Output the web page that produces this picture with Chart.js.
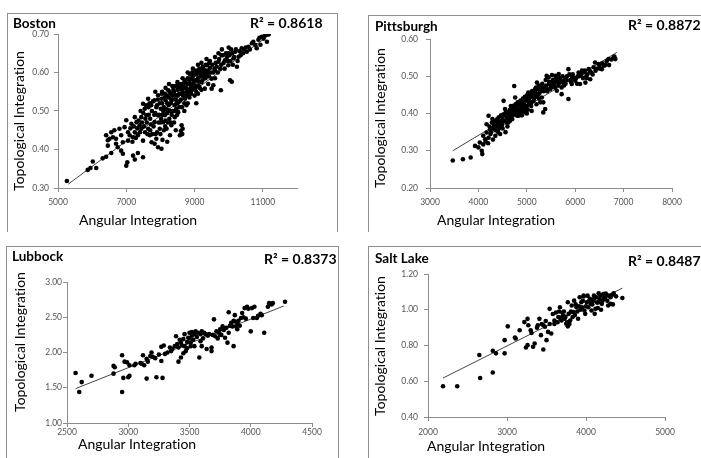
<!DOCTYPE html>
<html>
<head>
<meta charset="utf-8">
<script src="https://cdn.jsdelivr.net/npm/chart.js@4.4.0/dist/chart.umd.min.js"></script>
<style>
  body { margin: 0; width: 701px; height: 458px; overflow: hidden; position: relative; background: #fff; font-family: Lato, "Open Sans", sans-serif; font-variant-ligatures: none; }
  .box { position: absolute; border: 1px solid #8f8f8f; border-bottom: none; }
  canvas { position: absolute; }
  .lbl { position: absolute; white-space: nowrap; color: #000; line-height: 1; }
  .name { font-weight: bold; font-size: 13.5px; }
  .r2 { font-weight: bold; font-size: 14px; }
  .xt { font-size: 14px; }
  .yt { font-size: 14px; transform: translate(-50%, -50%) rotate(-90deg); }
</style>
</head>
<body>
<div class="box" style="left:7px;top:13px;width:329px;height:218px"></div>
<div class="box" style="left:368px;top:15px;width:340px;height:216px"></div>
<div class="box" style="left:6px;top:246px;width:331px;height:220px"></div>
<div class="box" style="left:368px;top:246px;width:340px;height:220px"></div>

<canvas id="boston"></canvas>
<canvas id="pittsburgh"></canvas>
<canvas id="lubbock"></canvas>
<canvas id="saltlake"></canvas>

<div class="lbl name" style="left:13px;top:17px">Boston</div>
<div class="lbl r2" style="left:250px;top:16px">R² = 0.8618</div>
<div class="lbl yt" style="left:19px;top:121px">Topological Integration</div>
<div class="lbl xt" style="left:79px;top:213px">Angular Integration</div>

<div class="lbl name" style="left:375px;top:20px">Pittsburgh</div>
<div class="lbl r2" style="left:628px;top:18px">R² = 0.8872</div>
<div class="lbl yt" style="left:380px;top:118px">Topological Integration</div>
<div class="lbl xt" style="left:437px;top:213px">Angular Integration</div>

<div class="lbl name" style="left:12px;top:250px">Lubbock</div>
<div class="lbl r2" style="left:264px;top:252px">R² = 0.8373</div>
<div class="lbl yt" style="left:20px;top:342px">Topological Integration</div>
<div class="lbl xt" style="left:78px;top:437px">Angular Integration</div>

<div class="lbl name" style="left:375px;top:252px">Salt Lake</div>
<div class="lbl r2" style="left:628px;top:254px">R² = 0.8487</div>
<div class="lbl yt" style="left:380px;top:346px">Topological Integration</div>
<div class="lbl xt" style="left:427px;top:439px">Angular Integration</div>

<script>
// Boston
const bostonPts = [
  [5260,0.318],[5870,0.347],[5950,0.352],[6020,0.369],[6120,0.352],[6310,0.377],[6410,0.381],[6560,0.391],
  [6460,0.410],[6700,0.415],[6610,0.432],[6800,0.454],[6950,0.458],[7000,0.476],[7100,0.437],[7200,0.432],
  [7250,0.445],[7050,0.423],[7000,0.358],[7030,0.367],[7200,0.384],[7340,0.391],[7250,0.374],[7490,0.380],
  [6900,0.389],[6410,0.437],[6510,0.428],[6750,0.406],[6850,0.397],[6650,0.450],[6460,0.424],[6560,0.445],
  [6700,0.428],[6850,0.437],[6900,0.419],[7150,0.467],[7300,0.471],[7250,0.484],[7440,0.454],[7340,0.437],
  [7490,0.423],[7390,0.463],[7440,0.484],[7540,0.506],[7590,0.489],[7640,0.454],[7690,0.437],[7740,0.419],
  [7830,0.415],[7880,0.428],[7930,0.406],[8030,0.402],[7980,0.454],[7830,0.471],[7930,0.489],[8010,0.506],
  [7730,0.515],[7830,0.528],[8030,0.532],[8130,0.545],[7930,0.541],[7490,0.519],[7640,0.532],[8080,0.471],
  [8130,0.489],[8230,0.502],[8180,0.454],[8280,0.437],[8320,0.463],[8420,0.484],[8520,0.497],[8620,0.463],
  [8650,0.454],[8570,0.437],[8420,0.515],[8320,0.528],[8230,0.554],[8370,0.563],[8480,0.541],[8570,0.558],
  [8670,0.567],[8720,0.532],[8760,0.515],[8810,0.550],[8860,0.571],[8910,0.584],[9010,0.567],[9110,0.576],
  [9210,0.593],[9260,0.610],[9360,0.619],[9400,0.602],[9500,0.584],[9550,0.567],[9600,0.606],[9700,0.628],
  [9790,0.645],[9890,0.632],[9990,0.619],[10040,0.580],[10090,0.576],[9990,0.650],[10140,0.637],[10190,0.654],
  [10290,0.641],[10380,0.663],[10530,0.654],[10580,0.667],[10780,0.671],[10870,0.685],[10970,0.693],[11070,0.697],
  [11120,0.680],[10820,0.663],[10680,0.676],[10240,0.615],[9770,0.554],[9500,0.558],[9300,0.558],
  [8050,0.520],[8100,0.510],[8150,0.528],[8200,0.520],[8250,0.535],[8300,0.545],[8350,0.540],[8400,0.550],
  [8450,0.530],[8500,0.555],[8550,0.545],[8600,0.560],[8650,0.550],[8700,0.575],[8750,0.560],[8800,0.585],
  [8850,0.555],[8900,0.570],[8950,0.590],[9000,0.580],[9050,0.595],[9100,0.585],[9150,0.600],[9200,0.575],
  [9250,0.590],[9300,0.605],[9350,0.595],[9450,0.612],[9550,0.600],[9650,0.615],[9750,0.610],[9850,0.625],
  [9950,0.640],[10050,0.630],[10100,0.650],[10350,0.645],[10450,0.660],[8000,0.470],[8060,0.490],[8100,0.450],
  [8150,0.475],[8200,0.495],[8260,0.480],[8350,0.500],[8400,0.470],[8460,0.505],[8500,0.520],[8550,0.510],
  [8600,0.530],[8700,0.520],[8750,0.540],[8850,0.535],[8900,0.545],[8950,0.560],[9050,0.550],[9150,0.560],
  [7700,0.480],[7750,0.500],[7800,0.460],[7850,0.495],[7900,0.515],[7950,0.470],[7600,0.470],[7650,0.510],
  [7550,0.445],[7500,0.495],[7700,0.450],[8000,0.440],[8060,0.425],[7900,0.445],[8200,0.420],[8300,0.470],
  [8450,0.450],[8700,0.500],[8800,0.520],[9000,0.540],[9100,0.545],[9200,0.555],[9400,0.570],[9600,0.585],
  [8350,0.565],[8500,0.575],[8650,0.585],[8800,0.600],[8950,0.610],[9100,0.620],[9200,0.625],[9350,0.635],
  [9450,0.630],[9600,0.640],[9700,0.650],[9800,0.660],[10000,0.665],[8150,0.560],[8050,0.550],[7850,0.550],
  [8250,0.570],[11170,0.699],[10930,0.672],
  [7050,0.445],[7120,0.455],[7180,0.420],[7220,0.460],[7280,0.430],[7320,0.455],[7360,0.475],[7400,0.445],
  [7420,0.500],[7460,0.470],[7520,0.460],[7560,0.480],[7580,0.515],[7620,0.440],[7660,0.490],[7680,0.520],
  [7720,0.465],[7760,0.440],[7780,0.525],[7820,0.490],[7860,0.440],[7880,0.510],[7920,0.530],[7960,0.490],
  [7980,0.520],[8020,0.480],[8040,0.545],[8080,0.500],[8120,0.535],[8140,0.460],[8170,0.505],[8190,0.540],
  [8220,0.470],[8240,0.515],[8270,0.550],[8290,0.500],[8310,0.520],[8330,0.490],[8360,0.530],[8380,0.555],
  [8410,0.500],[8430,0.540],[8440,0.565],[8470,0.520],[8490,0.490],[8510,0.540],[8530,0.565],[8560,0.525],
  [8580,0.545],[8610,0.570],[8630,0.510],[8660,0.540],[8680,0.560],[8710,0.545],[8730,0.580],[8770,0.550],
  [8790,0.570],[8820,0.540],[8840,0.580],[8870,0.595],[8880,0.560],[8920,0.555],[8930,0.600],[8970,0.575],
  [8990,0.595],[9020,0.560],[9040,0.605],[9070,0.580],[9090,0.600],[9120,0.565],[9140,0.610],[9170,0.590],
  [9190,0.605],[9230,0.580],[9240,0.615],[9280,0.600],[9320,0.585],[9330,0.620],[9380,0.605],[9420,0.590],
  [9430,0.625],[9480,0.600],[9520,0.620],[9580,0.610],[9620,0.625],[9680,0.600],[9720,0.635],[9780,0.620],
  [9830,0.645],[9880,0.610],[9920,0.650],[9970,0.630],[10020,0.645],[10070,0.660],[10120,0.620],[10160,0.640],
  [10210,0.660],[10260,0.630],[10320,0.655],[10420,0.650],[10500,0.665],[10620,0.660],[10720,0.680],[10900,0.690],
  [11020,0.688],[11100,0.698],[8640,0.440],[8600,0.448],[9050,0.520]
];
const bostonTrend = [[5300,0.310],[11150,0.695]];
const bostonXTicks = [5000,7000,9000,11000];
const bostonYTicks = [0.30,0.40,0.50,0.60,0.70];

// Pittsburgh
const pittsburghPts = [
  [3470,0.274],[3680,0.277],[3840,0.282],[3930,0.313],[4000,0.309],[4080,0.291],[4070,0.300],[4100,0.317],
  [4030,0.322],[4100,0.340],[4170,0.349],[4140,0.331],[4210,0.335],[4240,0.358],[4170,0.371],[4210,0.394],
  [4280,0.376],[4340,0.380],[4380,0.367],[4410,0.349],[4450,0.362],[4480,0.380],[4520,0.398],[4520,0.434],
  [4550,0.412],[4590,0.389],[4620,0.376],[4660,0.403],[4690,0.416],[4720,0.421],[4760,0.443],[4740,0.474],
  [4830,0.394],[4860,0.407],[4900,0.430],[4930,0.416],[4970,0.403],[5000,0.439],[5030,0.456],[5070,0.425],
  [5100,0.407],[5140,0.434],[5170,0.465],[5210,0.483],[5240,0.452],[5280,0.430],[5310,0.443],[5340,0.403],
  [5380,0.412],[5410,0.501],[5450,0.497],[5520,0.503],[5590,0.501],[5660,0.506],[5480,0.465],[5550,0.474],
  [5620,0.461],[5690,0.483],[5720,0.470],[5790,0.492],[5860,0.439],[5860,0.519],[5930,0.501],[6000,0.488],
  [6070,0.510],[6140,0.515],[6210,0.497],[6280,0.519],[6310,0.492],[6380,0.524],[6410,0.537],[6480,0.533],
  [6550,0.519],[6590,0.528],[6690,0.546],[6790,0.550],[6830,0.546],[6810,0.553],[6210,0.483],[6100,0.479],
  [5930,0.479],[5720,0.452],[5340,0.430],[4250,0.345],[4300,0.360],[4350,0.355],[4400,0.375],[4420,0.390],
  [4450,0.370],[4500,0.385],[4550,0.395],[4580,0.375],[4600,0.400],[4630,0.390],[4650,0.410],[4680,0.395],
  [4700,0.405],[4730,0.400],[4750,0.415],[4780,0.405],[4800,0.420],[4820,0.410],[4850,0.425],[4880,0.415],
  [4900,0.405],[4950,0.425],[4980,0.435],[5000,0.420],[5020,0.410],[5050,0.440],[5080,0.445],[5100,0.430],
  [5130,0.450],[5150,0.440],[5180,0.455],[5200,0.445],[5230,0.465],[5260,0.455],[5300,0.470],[5350,0.460],
  [5400,0.475],[5430,0.465],[5470,0.480],[5500,0.470],[5530,0.485],[5570,0.480],[5600,0.490],[5650,0.475],
  [5680,0.495],[5750,0.485],[5800,0.480],[5830,0.500],[5900,0.490],[5950,0.505],[6020,0.495],[6050,0.500],
  [6120,0.505],[6180,0.510],[6250,0.505],[6330,0.510],[6450,0.520],[6500,0.528],[6620,0.530],[4600,0.365],
  [4700,0.385],[4800,0.395],[4500,0.360],[4350,0.340],[4300,0.330],[4150,0.325],[4200,0.320],[4400,0.355],
  [4650,0.380],[4900,0.395],[5000,0.400],[5200,0.425],[5250,0.440],[4560,0.350],[4450,0.345],
  [4230,0.365],[4260,0.350],[4290,0.385],[4320,0.370],[4360,0.365],[4390,0.385],[4430,0.380],[4470,0.395],
  [4490,0.370],[4530,0.380],[4570,0.405],[4610,0.385],[4640,0.400],[4670,0.420],[4710,0.395],[4740,0.410],
  [4770,0.425],[4790,0.395],[4810,0.430],[4840,0.400],[4870,0.435],[4890,0.420],[4920,0.440],[4940,0.410],
  [4960,0.445],[4990,0.415],[5010,0.450],[5040,0.430],[5060,0.455],[5090,0.420],[5110,0.460],[5160,0.445],
  [5190,0.470],[5220,0.450],[5250,0.475],[5290,0.460],[5320,0.480],[5360,0.470],[5390,0.490],[5420,0.460],
  [5460,0.485],[5490,0.475],[5540,0.490],[5580,0.470],[5610,0.495],[5640,0.485],[5700,0.490],[5740,0.500],
  [5770,0.475],[5820,0.490],[5880,0.505],[5910,0.485],[5970,0.495],[6040,0.480],[6080,0.500],[6160,0.495],
  [6200,0.515],[6240,0.495],[6300,0.515],[6360,0.505],[6420,0.515],[6520,0.520],[6560,0.535],[6650,0.540],
  [6700,0.530],[6750,0.545]
];
const pittsburghTrend = [[3470,0.300],[6860,0.564]];
const pittsburghXTicks = [3000,4000,5000,6000,7000,8000];
const pittsburghYTicks = [0.20,0.30,0.40,0.50,0.60];

// Lubbock
const lubbockPts = [
  [2570,1.71],[2600,1.44],[2620,1.58],[2700,1.67],[2880,1.70],[2880,1.81],[2890,1.79],[2950,1.96],
  [2950,1.44],[2960,1.64],[2970,1.87],[3000,1.65],[3010,1.67],[2990,1.86],[3010,1.82],[3050,1.82],
  [3120,1.96],[3110,1.84],[3150,1.91],[3150,1.63],[3160,1.87],[3190,2.00],[3200,1.94],[3230,1.65],
  [3270,1.88],[3270,2.08],[3280,1.64],[3300,1.98],[3340,2.07],[3390,2.23],[3410,2.07],[3410,1.87],
  [3430,2.14],[3450,2.19],[3460,2.26],[3460,2.09],[3470,2.02],[3490,2.21],[3500,2.28],[3510,2.14],
  [3510,2.09],[3540,2.26],[3550,2.30],[3580,1.93],[3590,2.16],[3600,2.09],[3630,2.26],[3640,2.05],
  [3660,2.26],[3680,2.02],[3680,2.07],[3700,2.47],[3710,2.23],[3740,2.28],[3750,2.33],[3770,2.37],
  [3790,2.21],[3810,2.14],[3820,2.57],[3840,2.42],[3850,2.37],[3860,2.09],[3870,2.44],[3880,2.37],
  [3890,2.42],[3920,2.49],[3930,2.56],[3950,2.63],[3970,2.65],[4000,2.30],[4010,2.63],[4020,2.49],
  [4050,2.49],[4090,2.53],[4110,2.28],[4140,2.65],[4150,2.70],[3870,2.53],[3890,2.33],[3820,2.28],
  [3590,2.26],[3430,1.93],[3380,2.09],[3350,2.02],[3060,1.84],[3100,1.85],[3130,1.82],[3180,1.95],
  [3220,1.92],[3250,1.97],[3290,2.10],[3320,2.00],[3360,2.05],[3400,2.12],[3420,2.18],[3440,2.10],
  [3480,2.15],[3500,2.20],[3520,2.24],[3530,2.18],[3560,2.22],[3570,2.28],[3610,2.20],[3620,2.28],
  [3650,2.24],[3690,2.25],[3720,2.30],[3730,2.20],[3760,2.25],[3780,2.32],[3800,2.35],[3830,2.38],
  [3860,2.45],[3900,2.45],[3910,2.38],[3940,2.50],[3960,2.48],[3980,2.62],[4030,2.65],[4060,2.52],
  [4080,2.55],[4170,2.68],[4180,2.70],[4280,2.72],[3480,2.06],[3540,2.09],[3450,1.99],[3520,2.29],
  [3600,2.30],[3750,2.25]
];
const lubbockTrend = [[2570,1.488],[4270,2.66]];
const lubbockXTicks = [2500,3000,3500,4000,4500];
const lubbockYTicks = [1.00,1.50,2.00,2.50,3.00];

// Salt Lake
const saltLakePts = [
  [2190,0.572],[2370,0.572],[2660,0.618],[2650,0.747],[2820,0.649],[2820,0.771],[2860,0.756],[2970,0.756],
  [2970,0.830],[3010,0.907],[3110,0.839],[3100,0.845],[3160,0.885],[3220,0.931],[3240,0.789],[3260,0.802],
  [3260,0.949],[3270,0.913],[3300,0.885],[3310,0.870],[3330,0.793],[3350,0.811],[3390,0.913],[3410,0.949],
  [3430,0.858],[3460,0.778],[3460,0.913],[3490,0.937],[3500,0.830],[3520,0.876],[3540,1.005],[3560,0.867],
  [3580,0.976],[3600,0.940],[3620,0.985],[3650,0.959],[3670,1.014],[3690,0.940],[3700,0.985],[3710,0.968],
  [3730,0.950],[3750,0.922],[3770,0.907],[3770,1.042],[3780,0.977],[3800,0.940],[3820,1.024],[3830,0.959],
  [3840,0.987],[3850,1.051],[3880,1.014],[3900,0.950],[3920,1.070],[3940,1.042],[3950,1.014],[3970,1.079],
  [3980,0.996],[3990,0.977],[4010,1.042],[4030,1.014],[4050,1.061],[4060,1.033],[4070,0.996],[4090,1.051],
  [4110,0.977],[4120,1.005],[4130,1.070],[4160,1.042],[4180,1.079],[4190,1.000],[4200,1.033],[4220,1.088],
  [4240,1.061],[4260,1.079],[4280,1.024],[4310,1.070],[4330,1.084],[4350,1.092],[4310,1.033],[4460,1.066],
  [4160,1.092],[4100,1.079],[4020,1.079],[3970,1.074],[3600,0.920],[3640,0.930],[3680,0.950],[3720,0.990],
  [3740,0.960],[3760,0.930],[3790,0.920],[3810,0.990],[3860,0.970],[3870,1.030],[3890,0.990],[3910,1.020],
  [3930,1.000],[3960,1.050],[4000,1.020],[4040,1.050],[4080,1.030],[4100,1.060],[4140,1.040],[4150,1.010],
  [4170,1.060],[4210,1.050],[4230,1.070],[4250,1.090],[4270,1.050],[4290,1.080],[4340,1.030],[4380,1.075],
  [3380,0.900],[3440,0.920],[3480,0.905],[3540,0.920],[3660,0.990],[3700,0.960]
];
const saltLakeTrend = [[2190,0.618],[4460,1.121]];
const saltLakeXTicks = [2000,3000,4000,5000];
const saltLakeYTicks = [0.40,0.60,0.80,1.00,1.20];

const axisGrey = '#8c8c8c';
const tickFont = { family: 'Lato', size: 8.5 };

// canvas box and plot area (page pixels), label gaps
function makePanel(id, pts, trend, xTicks, yTicks, box, area, gapX, gapY) {
  const cv = document.getElementById(id);
  cv.width = box.w; cv.height = box.h;
  cv.style.left = box.x + 'px'; cv.style.top = box.y + 'px';
  cv.style.width = box.w + 'px'; cv.style.height = box.h + 'px';
  const cl = area.l - box.x, ct = area.t - box.y, cr = area.r - box.x, cb = area.b - box.y;
  return new Chart(cv, {
    type: 'scatter',
    data: {
      datasets: [
        {
          data: pts.map(p => ({ x: p[0], y: p[1] })),
          backgroundColor: '#000',
          borderColor: '#000',
          pointRadius: 2.3,
          pointBorderWidth: 0
        },
        {
          data: trend.map(p => ({ x: p[0], y: p[1] })),
          showLine: true,
          borderColor: '#444',
          borderWidth: 1,
          pointRadius: 0
        }
      ]
    },
    options: {
      responsive: false,
      animation: false,
      devicePixelRatio: 1,
      layout: { padding: { left: 0, top: ct, right: box.w - cr, bottom: 0 } },
      plugins: { legend: { display: false }, tooltip: { enabled: false } },
      scales: {
        x: {
          type: 'linear',
          min: xTicks[0],
          max: area.xMax,
          afterFit: s => { s.height = box.h - cb; },
          afterBuildTicks: s => { s.ticks = xTicks.map(v => ({ value: v })); },
          grid: { drawOnChartArea: false, color: axisGrey, tickLength: 4 },
          border: { color: axisGrey },
          ticks: { font: tickFont, color: '#555', padding: gapX, maxRotation: 0, callback: v => String(v) }
        },
        y: {
          min: yTicks[0],
          max: yTicks[yTicks.length - 1],
          afterFit: s => { s.width = cl; },
          afterBuildTicks: s => { s.ticks = yTicks.map(v => ({ value: v })); },
          grid: { drawOnChartArea: false, color: axisGrey, tickLength: 4 },
          border: { color: axisGrey },
          ticks: { font: tickFont, color: '#555', padding: gapY, callback: v => v.toFixed(2) }
        }
      }
    }
  });
}

makePanel('boston', bostonPts, bostonTrend, bostonXTicks, bostonYTicks,
  { x: 8, y: 14, w: 329, h: 217 }, { l: 58, t: 34, r: 297, b: 188, xMax: 12000 }, 5, 5);
makePanel('pittsburgh', pittsburghPts, pittsburghTrend, pittsburghXTicks, pittsburghYTicks,
  { x: 369, y: 16, w: 332, h: 215 }, { l: 430, t: 39, r: 672, b: 188, xMax: 8000 }, 5, 8);
makePanel('lubbock', lubbockPts, lubbockTrend, lubbockXTicks, lubbockYTicks,
  { x: 7, y: 247, w: 330, h: 211 }, { l: 67, t: 282, r: 312, b: 423, xMax: 4500 }, 0, 1);
makePanel('saltlake', saltLakePts, saltLakeTrend, saltLakeXTicks, saltLakeYTicks,
  { x: 369, y: 247, w: 332, h: 211 }, { l: 428, t: 274, r: 665, b: 417, xMax: 5000 }, 6, 6);
</script>
</body>
</html>
